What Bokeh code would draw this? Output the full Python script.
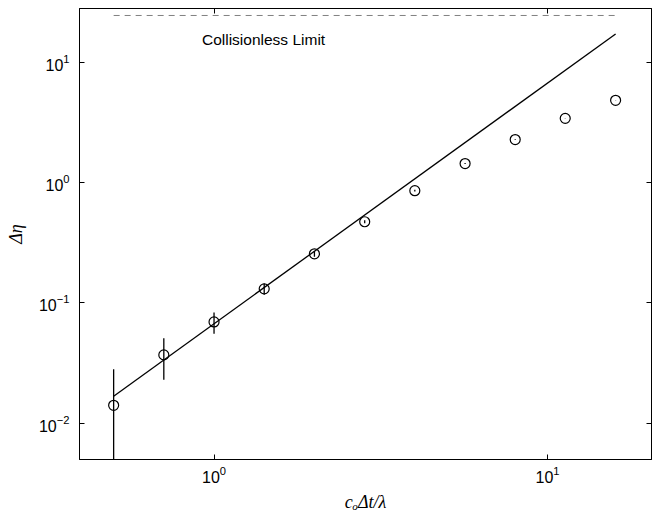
from bokeh.plotting import figure
from bokeh.models import LogAxis, Range1d, ColumnDataSource, Label
from bokeh.embed import file_html
from bokeh.resources import INLINE

# data
x_vals = [0.5, 0.707, 1.0, 1.414, 2.0, 2.83, 4.0, 5.66, 8.0, 11.3, 16.0]
d_eta = [0.0141, 0.037, 0.0695, 0.131, 0.256, 0.473, 0.857, 1.44, 2.28, 3.42, 4.83]
err = [0.014, 0.014, 0.014, 0.014, 0.014, 0.014, 0.014, 0.014, 0.014, 0.014, 0.014]
fit_x = [0.5, 16.0]
fit_y = [0.0168, 17.2]
limit_x = [0.5, 16.0]
limit_y = [24.5, 24.5]
x_ticks = [1, 10]
y_ticks = [0.01, 0.1, 1, 10]

p = figure(width=654, height=522, x_axis_type="log", y_axis_type="log",
           x_range=Range1d(0.395, 20.5), y_range=Range1d(0.005, 28),
           output_backend="svg", toolbar_location=None,
           min_border_left=79, min_border_right=3, min_border_top=8, min_border_bottom=63)
p.background_fill_color = "white"
p.border_fill_color = "white"
p.outline_line_color = "black"
p.outline_line_width = 1
p.grid.visible = False

for ax in [p.xaxis[0], p.yaxis[0]]:
    ax.major_tick_in = 5
    ax.major_tick_out = 0
    ax.minor_tick_line_color = None
    ax.axis_line_color = "black"
    ax.major_label_text_font = "Liberation Sans"
    ax.major_label_text_font_size = "16px"
    ax.major_label_text_color = "black"
    ax.axis_label_text_font = "Liberation Serif"
    ax.axis_label_text_font_style = "italic"
    ax.axis_label_text_font_size = "18px"
    ax.axis_label_text_color = "black"
p.xaxis[0].ticker = x_ticks
p.yaxis[0].ticker = y_ticks
p.xaxis[0].axis_label = "cₒΔt/λ"
p.yaxis[0].axis_label = "Δη"
p.xaxis[0].major_label_standoff = 6
p.yaxis[0].major_label_standoff = 10
p.xaxis[0].axis_label_standoff = 6
p.yaxis[0].axis_label_standoff = 10

for loc in ["above", "right"]:
    ax = LogAxis(ticker=x_ticks if loc == "above" else y_ticks)
    ax.major_tick_in = 5
    ax.major_tick_out = 0
    ax.minor_tick_line_color = None
    ax.major_label_text_font_size = "1px"
    ax.major_label_text_color = None
    ax.major_label_standoff = 0
    ax.axis_line_color = "black"
    p.add_layout(ax, loc)

src = ColumnDataSource(dict(x=x_vals, y=d_eta,
                            lo=[max(v - e, 1e-4) for v, e in zip(d_eta, err)],
                            hi=[v + e for v, e in zip(d_eta, err)]))

p.line(limit_x, limit_y, line_color="#808080", line_dash="6 5", line_width=1)
p.line(fit_x, fit_y, line_color="black", line_width=1.3)
p.segment(x0="x", y0="lo", x1="x", y1="hi", source=src, line_color="black", line_width=1.3)
p.scatter("x", "y", source=src, marker="circle", size=10, fill_color=None,
          line_color="black", line_width=1.2)

p.add_layout(Label(x=0.92, y=15.5, text="Collisionless Limit", text_font="Liberation Sans",
                   text_font_size="15.5px", text_color="black", text_baseline="middle"))

open("out.html", "w").write(file_html(p, INLINE))
